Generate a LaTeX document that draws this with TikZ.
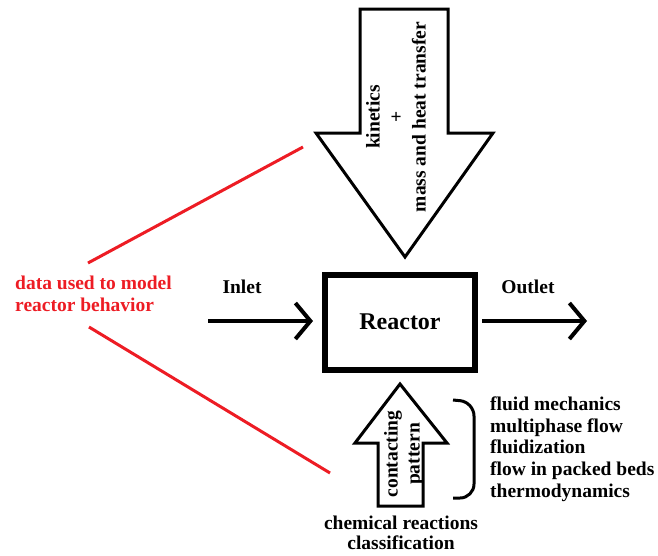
\documentclass[tikz,border=0pt]{standalone}
\usepackage{fontspec}
\setmainfont{Liberation Serif}
\usetikzlibrary{arrows.meta}
\definecolor{penred}{RGB}{237,28,36}
\begin{document}
\begin{tikzpicture}[x=1pt, y=-1pt, line join=miter,
  every node/.style={inner sep=0pt, font=\fontsize{19.5}{22}\selectfont\bfseries},
  block/.style={draw, line width=3pt},
  flow/.style={line width=4pt, -{Straight Barb[length=15pt,width=36pt]}},
  pen/.style={draw=penred, line width=3pt}]
\useasboundingbox (0,0) rectangle (658,555);
% big arrow from the top
\draw[block] (360,9) -- (448,9) -- (448,133) -- (493,133) -- (405,257) -- (316,133) -- (360,133) -- cycle;
\node[rotate=90, align=center, font=\fontsize{19.5}{23}\selectfont\bfseries] (kin) at (396,117) {kinetics\\+\\mass and heat transfer};
% small arrow from below
\draw[block] (400,384) -- (447,443) -- (423,443) -- (423,506) -- (378,506) -- (378,443) -- (355,443) -- cycle;
\node[rotate=90, align=center] (cp) at (404,454) {contacting\\pattern};
\node[align=center, font=\fontsize{19.5}{20}\selectfont\bfseries] (class) at (401,533) {chemical reactions\\classification};
% reactor with inlet and outlet
\node[draw, line width=6pt, minimum width=150pt, minimum height=95pt, font=\fontsize{24}{28}\selectfont\bfseries] (reactor) at (400,322) {Reactor};
\coordinate (in) at (208,321);
\coordinate (out) at (587,321);
\draw[flow, shorten >=9pt] (in) -- (in -| reactor.west);
\draw[flow, shorten <=4pt] (out -| reactor.east) -- (out);
\node (inlet) at (242,287) {Inlet};
\node (outlet) at (528,287) {Outlet};
% bracket and list
\draw[line width=3pt, rounded corners=14pt] (453,400) -- (474,402) -- (474,498) -- (453,498);
\node[anchor=west, align=left, font=\fontsize{19.5}{21.7}\selectfont\bfseries] (list) at (490,449)
  {fluid mechanics\\multiphase flow\\fluidization\\flow in packed beds\\thermodynamics};
% red note
\node[anchor=west, align=left, text=penred] (data) at (15,294) {data used to model\\reactor behavior};
\coordinate (d1) at (88,263);
\coordinate (d2) at (89,327);
\coordinate (kinend) at (303,147);
\coordinate (cpend) at (330,473);
\draw[pen] (d1) -- (kinend);
\draw[pen] (d2) -- (cpend);
\end{tikzpicture}
\end{document}
